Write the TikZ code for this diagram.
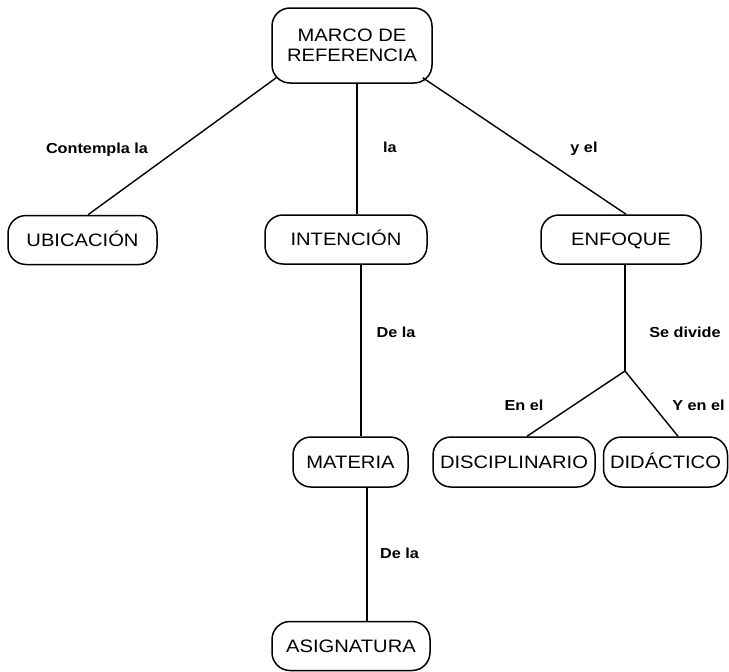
\documentclass[tikz,border=0pt]{standalone}
\usepackage{fontspec}
\setmainfont{Liberation Sans}[FakeStretch=1.12]
\usepackage{tikz}

\begin{document}
\begin{tikzpicture}[x=1pt, y=-1pt,
  caja/.style={draw, line width=1.5pt, rounded corners=18pt, inner sep=0pt,
    font=\fontsize{18}{20}\selectfont},
  concepto/.style={caja, minimum height=49pt, text height=12.9pt, text depth=0pt},
  enlace/.style={line width=1.4pt},
  rotulo/.style={anchor=base, font=\bfseries\fontsize{14.5}{16}\selectfont}]

\useasboundingbox (0,0) rectangle (729,672);

% ======================
% Concepts
% ======================
\node[caja, minimum width=160pt, minimum height=75pt, align=center]
  (marco) at (352,45.5) {MARCO DE\\REFERENCIA};

\node[concepto, minimum width=149pt] (ubicacion) at (82.5,240) {UBICACIÓN};
\node[concepto, minimum width=162pt] (intencion) at (346,239.5) {INTENCIÓN};
\node[concepto, minimum width=160pt] (enfoque) at (621,239.5) {ENFOQUE};

\node[concepto, minimum width=115pt, minimum height=50pt] (materia) at (350.5,462) {MATERIA};
\node[concepto, minimum width=162pt, minimum height=50pt] (disciplinario) at (514,462) {DISCIPLINARIO};
\node[concepto, minimum width=124pt, minimum height=50pt] (didactico) at (665.5,462) {DIDÁCTICO};

\node[concepto, minimum width=158pt] (asignatura) at (351,646) {ASIGNATURA};

% ======================
% Links
% ======================
\draw[enlace] ([xshift=5pt, yshift=6pt]marco.south west) -- ([xshift=5.5pt]ubicacion.north);
\draw[enlace] ([xshift=5pt]marco.south) -- ([xshift=11pt]intencion.north);
\draw[enlace] ([xshift=-10pt, yshift=6pt]marco.south east) -- ([xshift=5pt]enfoque.north);

\draw[enlace] ([xshift=15pt]intencion.south) -- ([xshift=10.5pt]materia.north);
\draw[enlace] ([xshift=16.5pt]materia.south) -- ([xshift=16pt]asignatura.north);

\coordinate (division) at (625,371);
\draw[enlace] ([xshift=4pt]enfoque.south) -- (division);
\draw[enlace] (division) -- ([xshift=13pt]disciplinario.north);
\draw[enlace] (division) -- ([xshift=12.5pt]didactico.north);

% ======================
% Link words
% ======================
\node[rotulo] (rContempla) at (97,153) {Contempla la};
\node[rotulo] (rLa) at (390,152) {la};
\node[rotulo] (rYel) at (584,152) {y el};

\node[rotulo] (rDeLaA) at (396,337) {De la};
\node[rotulo] (rSeDivide) at (685,337) {Se divide};

\node[rotulo] (rEnEl) at (524,410) {En el};
\node[rotulo] (rYenEl) at (698.5,410) {Y en el};

\node[rotulo] (rDeLaB) at (399.5,558) {De la};

\end{tikzpicture}
\end{document}
